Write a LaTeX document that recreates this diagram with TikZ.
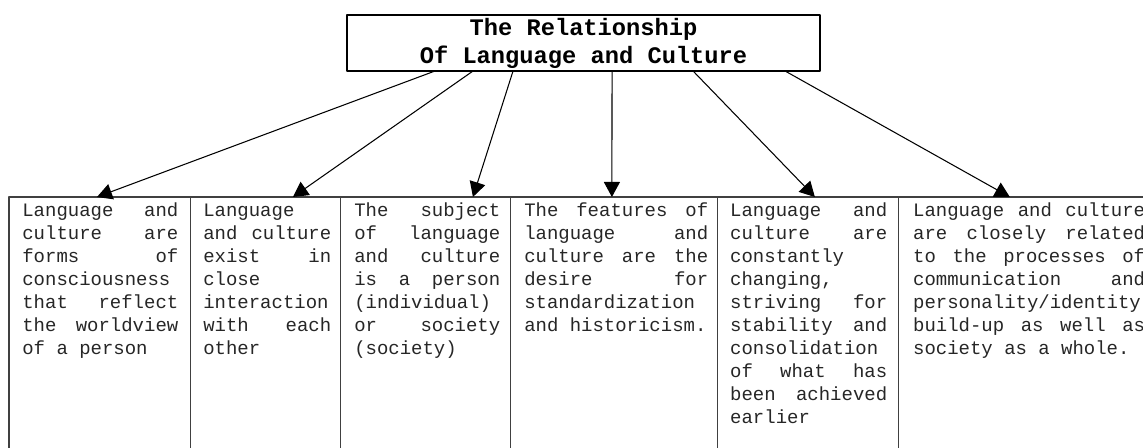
\documentclass[tikz,border=0pt]{standalone}
\usepackage{fontspec}
\setmonofont{Liberation Mono}
\usetikzlibrary{positioning,calc,arrows.meta}

\begin{document}
\begin{tikzpicture}[x=0.02cm, y=0.02cm, line cap=round, line join=round,
    titlebox/.style={draw, line width=1.1pt, inner sep=0pt, outer sep=0pt, minimum width=9.46cm, minimum height=1.12cm,
      align=flush center, font=\ttfamily\bfseries\fontsize{13.5}{15.9}\selectfont},
    cell/.style={draw=black!75, line width=0.6pt, inner sep=0pt, outer sep=0pt, minimum height=6.2cm},
    celltext/.style={anchor=north west, inner sep=0pt, align=flush left, text=black!85,
      font=\ttfamily\fontsize{10.8}{13.1}\selectfont, execute at begin node=\strut},
    link/.style={-{Triangle[length=0.3cm, width=0.32cm]}, line width=0.6pt}]
    \useasboundingbox (0,0) rectangle (1143,448);
    \clip (0,0) rectangle (1143,448);

    \node[titlebox] (title) at (583.5,405) {The Relationship\\Of Language and Culture};

    % the six columns of the table
    \node[cell, minimum width=3.64cm, anchor=north west] (c1) at (9,251) {};
    \node[cell, minimum width=3cm, right=0pt of c1] (c2) {};
    \node[cell, minimum width=3.4cm, right=0pt of c2] (c3) {};
    \node[cell, minimum width=4.14cm, right=0pt of c3] (c4) {};
    \node[cell, minimum width=3.62cm, right=0pt of c4] (c5) {};
    \node[cell, minimum width=5.4cm, right=0pt of c5] (c6) {};

    \node[celltext, text width=3.12cm] (t1) at ([shift={(13,-3)}]c1.north west)
      {Language\hfill and\\ culture\hfill are\\ forms\hfill of\\ consciousness\\ that\hfill reflect\\ the\hfill worldview\\ of a person};
    \node[celltext, text width=2.56cm] (t2) at ([shift={(12,-3)}]c2.north west)
      {Language\\ and\hfill culture\\ exist\hfill in\\ close\\ interaction\\ with\hfill each\\ other};
    \node[celltext, text width=2.92cm] (t3) at ([shift={(13,-3)}]c3.north west)
      {The\hfill subject\\ of\hfill language\\ and\hfill culture\\ is\hfill a\hfill person\\ (individual)\\ or\hfill society\\ (society)};
    \node[celltext, text width=3.68cm] (t4) at ([shift={(13,-3)}]c4.north west)
      {The\hfill features\hfill of\\ language\hfill and\\ culture\hfill are\hfill the\\ desire\hfill for\\ standardization\\ and historicism.};
    \node[celltext, text width=3.14cm] (t5) at ([shift={(12,-3)}]c5.north west)
      {Language\hfill and\\ culture\hfill are\\ constantly\\ changing,\\ striving\hfill for\\ stability\hfill and\\ consolidation\\ of\hfill what\hfill has\\ been\hfill achieved\\ earlier};
    \node[celltext, text width=4.64cm] (t6) at ([shift={(14,-3)}]c6.north west)
      {Language\hfill and\hfill culture\\ are\hfill closely\hfill related\\ to\hfill the\hfill processes\hfill of\\ communication\hfill and\\ personality/identity\\ build-up\hfill as\hfill well\hfill as\\ society as a whole.};

    \foreach \s/\c/\e in {88/c1/88, 126/c2/102, 166/c3/132, 265/c4/101, 346/c5/97, 438/c6/111}
      \draw[link] ($(title.south west)+(\s,0)$) -- ($(\c.north west)+(\e,0)$);
  \end{tikzpicture}
\end{document}
